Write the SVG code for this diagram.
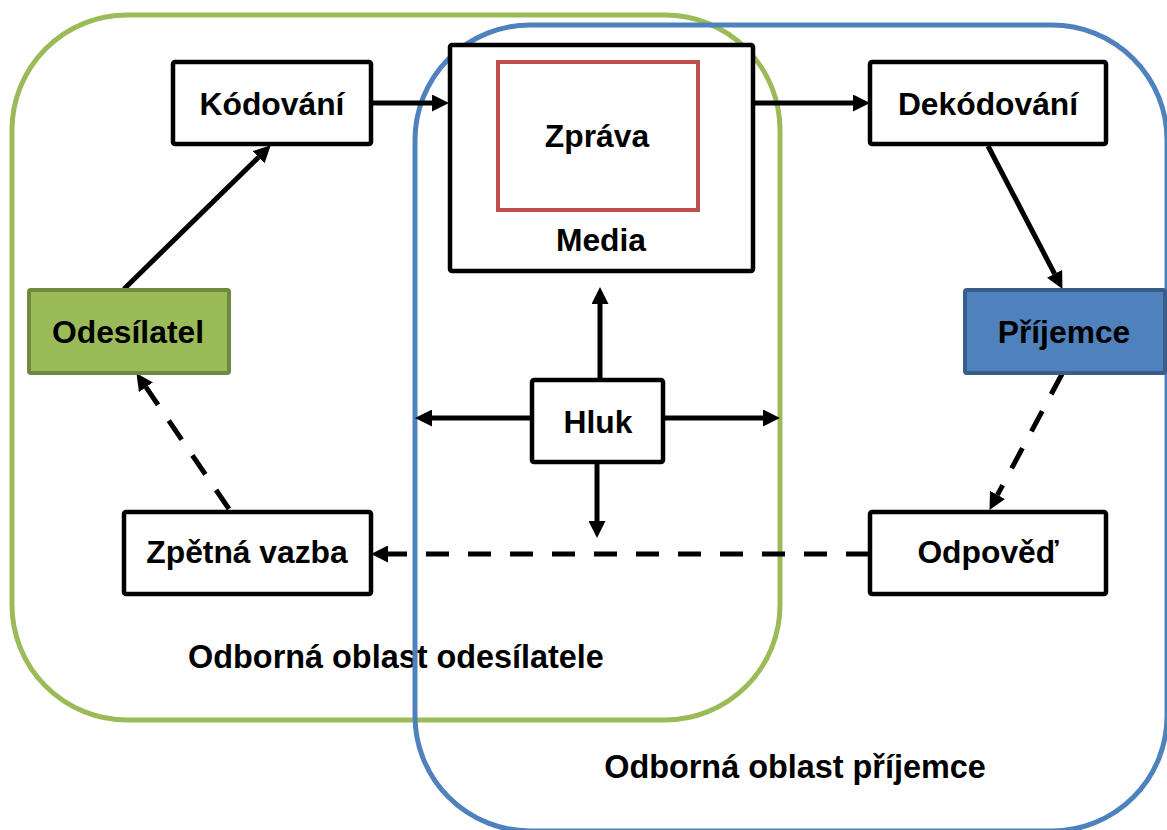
<svg xmlns="http://www.w3.org/2000/svg" width="1167" height="830" viewBox="0 0 1167 830">
<style>
.t{font-family:"Liberation Sans",Arial,sans-serif;font-weight:bold;font-size:31.8px;fill:#000;text-anchor:middle}
.lbl{font-size:32.4px}
.box{fill:#fff;stroke:#000;stroke-width:4.5}
.c{stroke:#000;stroke-width:5;fill:none}
.d{stroke-dasharray:23 19}
</style>
<defs>
<marker id="ah" markerUnits="userSpaceOnUse" markerWidth="17" markerHeight="17" viewBox="0 0 17 17" refX="0" refY="8.5" orient="auto">
<path d="M0,0 L17,8.5 L0,17 z" fill="#000"/>
</marker>
</defs>
<rect width="1167" height="830" fill="#fff"/>
<g id="area-sender">
<rect x="12" y="15" width="768" height="705" rx="115" fill="none" stroke="#9BBB59" stroke-width="5"/>
<text class="t lbl" x="396" y="668">Odborná oblast odesílatele</text>
</g>
<g id="area-receiver">
<rect x="415" y="25" width="752" height="806" rx="115" fill="none" stroke="#4F81BD" stroke-width="5"/>
<text class="t lbl" x="795" y="778">Odborná oblast příjemce</text>
</g>
<g id="connectors">
<line class="c" x1="372" y1="103" x2="432" y2="103" marker-end="url(#ah)"/>
<line class="c" x1="754" y1="103" x2="853" y2="103" marker-end="url(#ah)"/>
<line class="c" x1="124" y1="289" x2="258.6" y2="157.2" marker-end="url(#ah)"/>
<line class="c" x1="988" y1="146" x2="1054.6" y2="273.8" marker-end="url(#ah)"/>
<line class="c d" x1="1062" y1="374" x2="997.5" y2="494.9" marker-end="url(#ah)"/>
<line class="c d" x1="869" y1="554" x2="388" y2="554" marker-end="url(#ah)"/>
<line class="c d" x1="229" y1="509" x2="146" y2="387.2" marker-end="url(#ah)"/>
<line class="c" x1="600" y1="379" x2="600" y2="304" marker-end="url(#ah)"/>
<line class="c" x1="531" y1="418" x2="432" y2="418" marker-end="url(#ah)"/>
<line class="c" x1="664" y1="418" x2="763" y2="418" marker-end="url(#ah)"/>
<line class="c" x1="597" y1="463" x2="597" y2="521" marker-end="url(#ah)"/>
</g>
<g id="kodovani">
<rect class="box" x="173" y="62" width="198" height="82" rx="2"/>
<text class="t" x="272" y="115">Kódování</text>
</g>
<g id="media">
<rect class="box" x="450" y="45" width="303" height="226" rx="2"/>
<rect x="498" y="62" width="200" height="148" fill="#fff" stroke="#C0504D" stroke-width="4"/>
<text class="t" x="597" y="147">Zpráva</text>
<text class="t" x="601" y="251">Media</text>
</g>
<g id="dekodovani">
<rect class="box" x="870" y="62" width="236" height="82" rx="2"/>
<text class="t" x="988" y="115">Dekódování</text>
</g>
<g id="odesilatel">
<rect x="29" y="290" width="200" height="83" rx="2" fill="#9BBB59" stroke="#71893F" stroke-width="4"/>
<text class="t" x="128" y="343">Odesílatel</text>
</g>
<g id="prijemce">
<rect x="965" y="290" width="200" height="83" rx="2" fill="#4F81BD" stroke="#385D8A" stroke-width="4"/>
<text class="t" x="1064" y="343">Příjemce</text>
</g>
<g id="hluk">
<rect class="box" x="532" y="380" width="131" height="82" rx="2"/>
<text class="t" x="598" y="433">Hluk</text>
</g>
<g id="zpetna-vazba">
<rect class="box" x="124" y="512" width="247" height="82" rx="2"/>
<text class="t" x="247" y="563">Zpětná vazba</text>
</g>
<g id="odpoved">
<rect class="box" x="870" y="512" width="236" height="82" rx="2"/>
<text class="t" x="988" y="563">Odpověď</text>
</g>
</svg>
